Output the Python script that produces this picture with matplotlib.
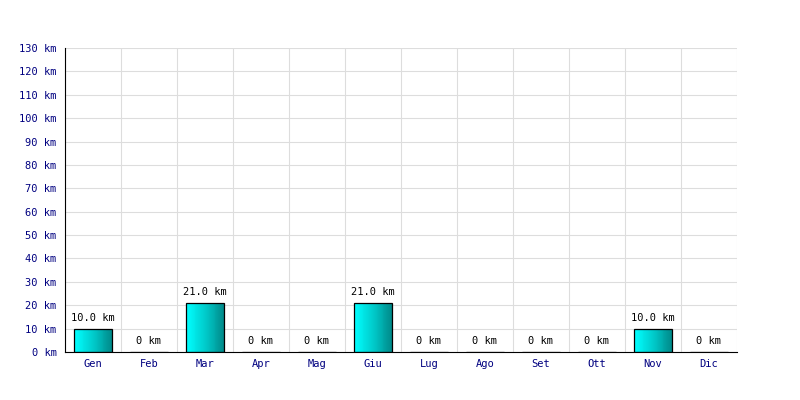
import matplotlib
matplotlib.use("Agg")
import matplotlib.pyplot as plt
import numpy as np
from matplotlib.colors import LinearSegmentedColormap
from matplotlib.patches import Rectangle

months = ["Gen", "Feb", "Mar", "Apr", "Mag", "Giu", "Lug", "Ago", "Set", "Ott", "Nov", "Dic"]
distances = [10.0, 0, 21.0, 0, 0, 21.0, 0, 0, 0, 0, 10.0, 0]
y_ticks = list(range(0, 131, 10))

plt.rcParams["font.family"] = "DejaVu Sans Mono"

fig = plt.figure(figsize=(8, 4), dpi=100)
ax = fig.add_axes([0.08125, 0.12, 0.84, 0.76])

x = np.arange(len(months))
ax.set_xlim(-0.5, len(months) - 0.5)
ax.set_ylim(0, 130)

# vertical grid at category boundaries, horizontal grid at each tick
for b in np.arange(-0.5, len(months) + 0.5, 1):
    ax.axvline(b, color="#dddddd", lw=0.8, zorder=0)
for t in y_ticks:
    ax.axhline(t, color="#dddddd", lw=0.8, zorder=0)

cmap = LinearSegmentedColormap.from_list("barfill", ["#00ffff", "#00cccc", "#008b8b"])
width = 0.68
n_strips = 40
bars = ax.bar(x, distances, width=width, facecolor="none", edgecolor="black", lw=0.9, zorder=3)
for bar, d in zip(bars, distances):
    if d > 0:
        x0 = bar.get_x()
        sw = width / n_strips
        for i in range(n_strips):
            ax.add_patch(Rectangle((x0 + i * sw, 0), sw * 1.05, d, facecolor=cmap(i / (n_strips - 1)),
                                   edgecolor="none", lw=0, zorder=2))

for xi, d in zip(x, distances):
    label = f"{d:.1f} km" if d > 0 else "0 km"
    ax.text(xi, d + 2.5, label, ha="center", va="bottom", fontsize=7.5, color="black", zorder=4)

ax.set_xticks(x)
ax.set_xticklabels(months)
ax.set_yticks(y_ticks)
ax.set_yticklabels([f"{t} km" for t in y_ticks])
ax.tick_params(axis="both", length=0, colors="#000080", labelsize=7.5)
ax.tick_params(axis="y", pad=6)
ax.tick_params(axis="x", pad=5)

for side in ["top", "right"]:
    ax.spines[side].set_visible(False)
ax.spines["left"].set_color("black")
ax.spines["bottom"].set_color("black")

fig.savefig("out.png", dpi=100)
